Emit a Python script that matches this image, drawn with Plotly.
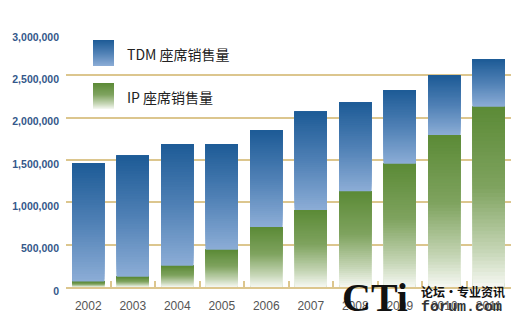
import plotly.graph_objects as go

# ---------------- data ----------------
years = ["2002", "2003", "2004", "2005", "2006", "2007", "2008", "2009", "2010", "2011"]
ip_sales = [65000, 120000, 250000, 440000, 710000, 910000, 1130000, 1455000, 1795000, 2130000]
tdm_sales = [1400000, 1430000, 1440000, 1250000, 1140000, 1160000, 1050000, 870000, 700000, 560000]
series_names = ["TDM 座席销售量", "IP 座席销售量"]
y_ticks = [0, 500000, 1000000, 1500000, 2000000, 2500000, 3000000]

# ---------------- style ----------------
W, H = 520, 332
ML, MR, MT, MB = 66, 9, 33, 45
PW, PH = W - ML - MR, H - MT - MB
GOLD = "#dcc68e"
BLUE_STOPS = [(0.0, "#1d5b96"), (0.5, "#4f80b5"), (1.0, "#8cadd6")]      # top -> bottom
GREEN_STOPS = [(0.0, "#5b8a36"), (0.45, "#7fa35f"), (0.8, "#c6d6b6"), (1.0, "#f6f8f3")]
BAR_W = 0.72
K = 48  # gradient steps per bar


def hex2rgb(h):
    h = h.lstrip("#")
    return tuple(int(h[i:i + 2], 16) for i in (0, 2, 4))


def interp(stops, t):
    for (t0, c0), (t1, c1) in zip(stops[:-1], stops[1:]):
        if t <= t1:
            f = 0 if t1 == t0 else (t - t0) / (t1 - t0)
            a, b = hex2rgb(c0), hex2rgb(c1)
            return "rgb(%d,%d,%d)" % tuple(round(a[i] + (b[i] - a[i]) * f) for i in range(3))
    return stops[-1][1]


def px_x(px):
    return (px - ML) / PW


def px_y(py):
    return (H - MB - py) / PH


fig = go.Figure()

tdm_base = ip_sales
# real data traces (solid), gradient drawn on top of them
fig.add_trace(go.Bar(x=years, y=ip_sales, base=[0] * len(years), name=series_names[1],
                     marker=dict(color=interp(GREEN_STOPS, 0.4), line=dict(width=0)),
                     width=BAR_W, showlegend=False))
fig.add_trace(go.Bar(x=years, y=tdm_sales, base=tdm_base, name=series_names[0],
                     marker=dict(color=interp(BLUE_STOPS, 0.5), line=dict(width=0)),
                     width=BAR_W, showlegend=False))

# gradient overlay: each layer runs from a step up the bar to the bar's top,
# drawn bottom-first so layers overlap without seams
for vals, bases, stops in [(ip_sales, [0] * len(years), GREEN_STOPS),
                           (tdm_sales, tdm_base, BLUE_STOPS)]:
    for k in range(K):
        t = 1 - (k + 0.5) / K  # k=0 is bottom
        fig.add_trace(go.Bar(
            x=years,
            y=[v * (K - k) / K for v in vals],
            base=[b + v * k / K for v, b in zip(vals, bases)],
            marker=dict(color=interp(stops, t), line=dict(width=0)),
            width=BAR_W, showlegend=False, hoverinfo="skip"))

# legend (gradient swatches + text)
shapes = []
for (y0, stops) in [(40, BLUE_STOPS), (83, GREEN_STOPS)]:
    n = 26
    for i in range(n):
        shapes.append(dict(type="rect", xref="paper", yref="paper",
                           x0=px_x(93), x1=px_x(114),
                           y0=px_y(y0 + i), y1=px_y(y0 + n),
                           fillcolor=interp(stops, (i + 0.5) / n), line=dict(width=0),
                           layer="above"))

annotations = [
    dict(text=series_names[0], xref="paper", yref="paper", x=px_x(125), y=px_y(54),
         xanchor="left", yanchor="middle", showarrow=False,
         font=dict(family="Noto Sans CJK SC", size=14, color="#222222")),
    dict(text=series_names[1], xref="paper", yref="paper", x=px_x(125), y=px_y(97),
         xanchor="left", yanchor="middle", showarrow=False,
         font=dict(family="Noto Sans CJK SC", size=14, color="#222222")),
    # watermark
    dict(text="CTi", xref="paper", yref="paper", x=px_x(340), y=px_y(297),
         xanchor="left", yanchor="middle", showarrow=False,
         font=dict(family="Liberation Serif", size=40, color="#111111", weight="bold")),
    dict(text="论坛·专业资讯", xref="paper", yref="paper", x=px_x(419), y=px_y(291),
         xanchor="left", yanchor="middle", showarrow=False,
         font=dict(family="Noto Sans CJK SC", size=12, color="#111111", weight="bold")),
    dict(text="forum.com", xref="paper", yref="paper", x=px_x(419), y=px_y(307),
         xanchor="left", yanchor="middle", showarrow=False,
         font=dict(family="Liberation Mono", size=15, color="#333333", weight="bold")),
]

fig.update_layout(
    width=W, height=H,
    margin=dict(l=ML, r=MR, t=MT, b=MB, pad=0),
    paper_bgcolor="white", plot_bgcolor="white",
    barmode="overlay",
    showlegend=False,
    shapes=shapes,
    annotations=annotations,
    xaxis=dict(type="category", range=[-0.5, len(years) - 0.5],
               showgrid=False, showline=True, linecolor=GOLD, linewidth=1.5,
               ticks="inside", tickson="boundaries", ticklen=6, tickwidth=1.5, tickcolor=GOLD,
               ticklabelstandoff=7,
               tickfont=dict(family="Liberation Sans", size=12, color="#555555"),
               fixedrange=True),
    yaxis=dict(range=[0, 3000000], tickvals=y_ticks, tickformat=",d",
               showgrid=True, gridcolor=GOLD, gridwidth=1.5,
               zeroline=False, showline=False, ticks="",
               ticklabelstandoff=6, ticklabelshift=4,
               tickfont=dict(family="Liberation Sans", size=10.5, color="#34588a", weight="bold"),
               fixedrange=True),
)

fig.write_html("out.html")
